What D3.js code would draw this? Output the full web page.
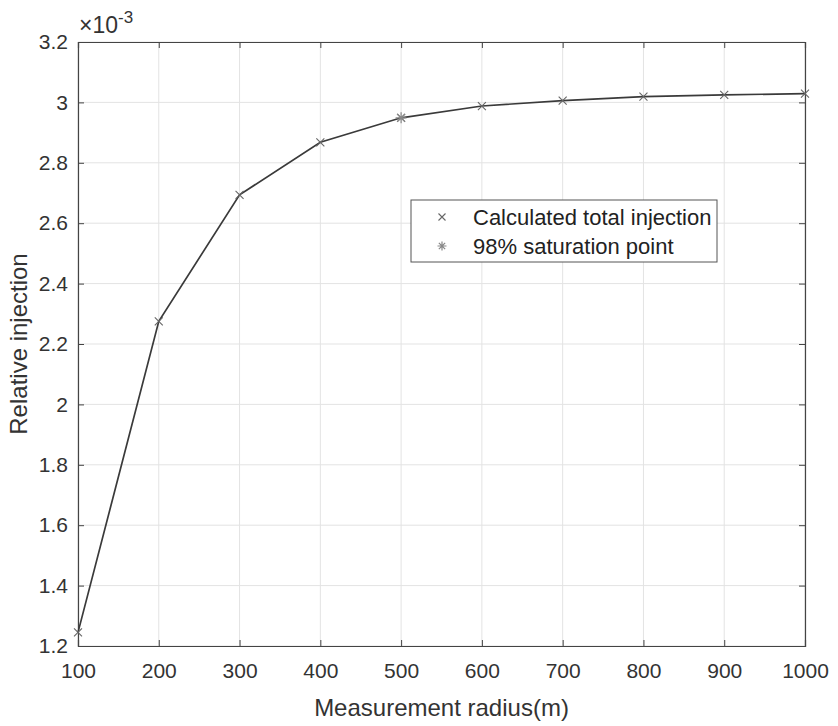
<!DOCTYPE html>
<html>
<head>
<meta charset="utf-8">
<script src="https://cdn.jsdelivr.net/npm/d3@7"></script>
<style>
  body { margin: 0; background: #fff; }
  text { font-family: "Liberation Sans", Arial, sans-serif; }
</style>
</head>
<body>
<script>
const radius = [100, 200, 300, 400, 500, 600, 700, 800, 900, 1000];
const injection = [1.245, 2.275, 2.694, 2.868, 2.949, 2.988, 3.006, 3.019, 3.025, 3.029]; // x10^-3
const saturationPoint = [500, 2.949];
const xTicks = [100, 200, 300, 400, 500, 600, 700, 800, 900, 1000];
const yTicks = [1.2, 1.4, 1.6, 1.8, 2, 2.2, 2.4, 2.6, 2.8, 3, 3.2];
const legendLabels = ['Calculated total injection', '98% saturation point'];

const W = 838, H = 726;
const m = { left: 78, top: 42, right: 33, bottom: 80 };
const iw = W - m.left - m.right, ih = H - m.top - m.bottom;

const svg = d3.select('body').append('svg').attr('width', W).attr('height', H);
const g = svg.append('g').attr('transform', `translate(${m.left},${m.top})`);

const x = d3.scaleLinear().domain([100, 1000]).range([0, iw]);
const y = d3.scaleLinear().domain([1.2, 3.2]).range([ih, 0]);

const axisCol = '#444';

// grid
g.append('g').selectAll('line').data(xTicks).enter().append('line')
  .attr('x1', d => x(d)).attr('x2', d => x(d)).attr('y1', 0).attr('y2', ih)
  .attr('stroke', '#e3e3e3');
g.append('g').selectAll('line').data(yTicks).enter().append('line')
  .attr('y1', d => y(d)).attr('y2', d => y(d)).attr('x1', 0).attr('x2', iw)
  .attr('stroke', '#e3e3e3');

// axes (ticks inward on all four sides)
const fmt = d => d3.format('')(d);
const styleAxis = sel => {
  sel.select('.domain').attr('stroke', axisCol).attr('stroke-width', 1.2);
  sel.selectAll('.tick line').attr('stroke', axisCol);
  sel.selectAll('text').attr('fill', '#333').style('font-size', '21px');
};
g.append('g').attr('transform', `translate(0,${ih})`)
  .call(d3.axisBottom(x).tickValues(xTicks).tickSize(-6).tickPadding(17).tickFormat(fmt))
  .call(styleAxis);
g.append('g')
  .call(d3.axisTop(x).tickValues(xTicks).tickSize(-6).tickFormat(''))
  .call(styleAxis);
g.append('g')
  .call(d3.axisLeft(y).tickValues(yTicks).tickSize(-6).tickPadding(10).tickFormat(fmt))
  .call(styleAxis);
g.append('g').attr('transform', `translate(${iw},0)`)
  .call(d3.axisRight(y).tickValues(yTicks).tickSize(-6).tickFormat(''))
  .call(styleAxis);
g.selectAll('.domain').attr('fill', 'none');

// exponent label
const ex = svg.append('text').attr('x', m.left + 1).attr('y', 33)
  .attr('fill', '#333').style('font-size', '23px');
ex.append('tspan').text('\u00d710');
ex.append('tspan').attr('dy', -10).style('font-size', '17px').text('-3');

// line
const line = d3.line().x((d, i) => x(radius[i])).y(d => y(d));
g.append('path').datum(injection).attr('d', line)
  .attr('fill', 'none').attr('stroke', '#3a3a3a').attr('stroke-width', 1.7);

// x markers
const cross = (sel, s) => sel.append('path')
  .attr('d', `M${-s},${-s}L${s},${s}M${-s},${s}L${s},${-s}`)
  .attr('stroke', '#666').attr('stroke-width', 1.1).attr('fill', 'none');
g.append('g').selectAll('g').data(radius).enter().append('g')
  .attr('transform', (d, i) => `translate(${x(d)},${y(injection[i])})`)
  .each(function () { cross(d3.select(this), 4); });

// asterisk marker
const star = (sel, s) => {
  sel.append('path')
    .attr('d', `M${-s},0L${s},0M0,${-s}L0,${s}M${-s * 0.7},${-s * 0.7}L${s * 0.7},${s * 0.7}M${-s * 0.7},${s * 0.7}L${s * 0.7},${-s * 0.7}`)
    .attr('stroke', '#888').attr('stroke-width', 1.2).attr('fill', 'none');
};
g.append('g').attr('transform', `translate(${x(saturationPoint[0])},${y(saturationPoint[1])})`)
  .call(s => star(s, 5.5));

// legend
const lg = svg.append('g').attr('transform', 'translate(411,200)');
lg.append('rect').attr('width', 306).attr('height', 62)
  .attr('fill', '#fff').attr('stroke', '#555').attr('stroke-width', 1);
lg.append('g').attr('transform', 'translate(31,17)').call(s => cross(s, 3.5));
lg.append('g').attr('transform', 'translate(31,46)').call(s => star(s, 4.5));
lg.selectAll('text.lab').data(legendLabels).enter().append('text')
  .attr('x', 62).attr('y', (d, i) => 17 + i * 29).attr('dy', '0.35em')
  .attr('fill', '#222').style('font-size', '22px').text(d => d);

// axis labels
svg.append('text').attr('x', m.left + iw / 2).attr('y', 716)
  .attr('text-anchor', 'middle').attr('fill', '#333').style('font-size', '24px')
  .text('Measurement radius(m)');
svg.append('text').attr('transform', `translate(27,${m.top + ih / 2}) rotate(-90)`)
  .attr('text-anchor', 'middle').attr('fill', '#333').style('font-size', '24px')
  .text('Relative injection');
</script>
</body>
</html>
